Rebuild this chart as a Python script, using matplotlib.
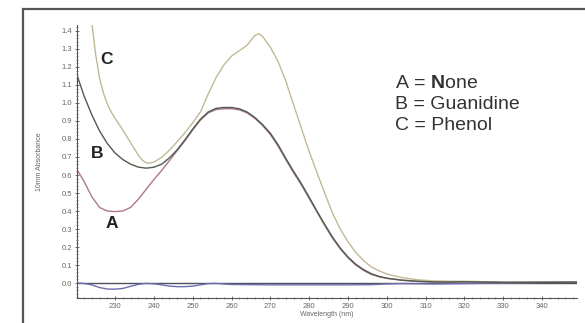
import numpy as np
import matplotlib
matplotlib.use('Agg')
import matplotlib.pyplot as plt
from matplotlib.patches import Rectangle
from matplotlib.ticker import MultipleLocator

plt.rcParams['font.family'] = ['Liberation Sans', 'DejaVu Sans']
plt.rcParams['mathtext.fontset'] = 'custom'
plt.rcParams['mathtext.rm'] = 'Liberation Sans'
plt.rcParams['mathtext.bf'] = 'Liberation Sans:bold'

# A = None
wl_a = [220.2, 222, 224, 226, 228, 230, 232, 234, 236, 238, 240, 242, 244, 246, 248, 250,
        252, 254, 256, 258, 260, 262, 264, 266, 268, 270, 272, 274, 276, 278, 280, 282,
        284, 286, 288, 290, 292, 294, 296, 298, 300, 304, 308, 312, 316, 320, 330, 340, 349]
abs_a = [0.63, 0.565, 0.48, 0.42, 0.4, 0.397, 0.4, 0.42, 0.465, 0.52, 0.575, 0.625,
         0.68, 0.735, 0.79, 0.85, 0.905, 0.945, 0.963, 0.968, 0.968, 0.962, 0.945, 0.915,
         0.875, 0.825, 0.76, 0.685, 0.612, 0.545, 0.47, 0.395, 0.32, 0.25, 0.19, 0.14, 0.1,
         0.07, 0.048, 0.035, 0.026, 0.015, 0.009, 0.006, 0.004, 0.006, 0.003, 0.004, 0.004]

# B = Guanidine
wl_b = wl_a
abs_b = [1.155, 1.04, 0.935, 0.845, 0.775, 0.722, 0.686, 0.66, 0.644, 0.638, 0.643, 0.66,
         0.695, 0.74, 0.795, 0.855, 0.91, 0.95, 0.97, 0.975, 0.975, 0.968, 0.95, 0.92,
         0.88, 0.832, 0.768, 0.692, 0.62, 0.552, 0.477, 0.4, 0.326, 0.256, 0.195, 0.145,
         0.105, 0.075, 0.052, 0.037, 0.027, 0.016, 0.01, 0.006, 0.006, 0.007, 0.004, 0.004, 0.005]

# C = Phenol
wl_c = [223.6, 224.1, 225, 226, 227, 228, 229, 230, 232, 234, 236, 237, 238, 239, 240, 242,
        244, 246, 248, 250, 252, 254, 256, 258, 260, 262, 264, 266, 267, 268, 270, 272, 274,
        276, 278, 280, 282, 284, 286, 288, 290, 292, 294, 296, 298, 300, 304, 308, 312, 316,
        320, 330, 340, 349]
abs_c = [1.52, 1.43, 1.27, 1.14, 1.055, 0.995, 0.95, 0.915, 0.85, 0.78, 0.71, 0.683, 0.668,
         0.666, 0.672, 0.698, 0.738, 0.785, 0.835, 0.89, 0.95, 1.05, 1.14, 1.21, 1.26, 1.29,
         1.32, 1.375, 1.385, 1.37, 1.31, 1.23, 1.12, 0.99, 0.86, 0.73, 0.615, 0.5, 0.39, 0.3,
         0.23, 0.17, 0.125, 0.09, 0.068, 0.05, 0.03, 0.018, 0.012, 0.01, 0.01, 0.005, 0.005, 0.005]

# blank / baseline trace
wl_d = [220.2, 222, 224, 226, 228, 230, 232, 234, 236, 238, 240, 242, 244, 246, 248, 250,
        252, 254, 256, 260, 270, 280, 290, 296, 300, 304, 308, 312, 316, 320, 326, 330,
        336, 340, 344, 349]
abs_d = [0, -0.002, -0.01, -0.025, -0.033, -0.034, -0.03, -0.018, -0.007, -0.002, -0.004,
         -0.01, -0.017, -0.02, -0.02, -0.017, -0.01, -0.003, -0.002, -0.008, -0.01, -0.01,
         -0.01, -0.009, -0.005, -0.003, -0.004, -0.005, -0.004, -0.003, -0.001, 0, 0.002,
         0.004, 0.005, 0.005]

legend_lines = [r'A = $\mathbf{N}$one', 'B = Guanidine', 'C = Phenol']

fig = plt.figure(figsize=(5.85, 3.23), dpi=100)
ax = fig.add_axes([77/585, 1-298/323, 500/585, 273/323])

# outer frame, cut by the right and bottom edges
fig.patches.append(Rectangle((23/585, -0.1), 1.1, 1-9/323+0.1, transform=fig.transFigure,
                             fill=False, edgecolor='#555555', linewidth=1.6))

ax.axhline(0, color='#50505c', linewidth=1.0)
ax.plot(wl_d, abs_d, color='#6d6db0', linewidth=1.0)
ax.plot(wl_c, abs_c, color='#c2b994', linewidth=1.0)
ax.plot(wl_a, abs_a, color='#b07888', linewidth=1.0)
ax.plot(wl_b, abs_b, color='#4f5c50', linewidth=1.0)

ax.set_xlim(220.2, 349)
ax.set_ylim(-0.083, 1.433)
for s in ['top', 'right']:
    ax.spines[s].set_visible(False)
for s in ['left', 'bottom']:
    ax.spines[s].set_color('#555555')
    ax.spines[s].set_linewidth(0.8)

ax.xaxis.set_minor_locator(MultipleLocator(2))
ax.yaxis.set_minor_locator(MultipleLocator(0.02))
ax.set_xticks(np.arange(230, 341, 10))
ax.set_yticks(np.arange(0, 1.41, 0.1))
ax.set_yticklabels([f'{v:.1f}' for v in np.arange(0, 1.41, 0.1)])
ax.tick_params(which='major', length=3, width=0.6, direction='inout', colors='#555555',
               labelsize=5.5, labelcolor='#666666', pad=2)
ax.tick_params(which='minor', length=2, width=0.5, direction='inout', colors='#666666')

ax.set_xlabel('Wavelength (nm)', fontsize=5, color='#666666', labelpad=1)
ax.set_ylabel('10mm Absorbance', fontsize=5, color='#666666', labelpad=13)

lbl = dict(fontsize=12.5, fontweight='bold', color='#222222', ha='center', va='center')
ax.text(227.9, 1.24, 'C', **lbl)
ax.text(225.4, 0.72, 'B', **lbl)
ax.text(229.2, 0.333, 'A', **lbl)

for i, t in enumerate(legend_lines):
    ax.text(302.2, 1.11 - i*0.117, t, fontsize=14, color='#333333', ha='left', va='center')

fig.savefig('out.png', dpi=100)
